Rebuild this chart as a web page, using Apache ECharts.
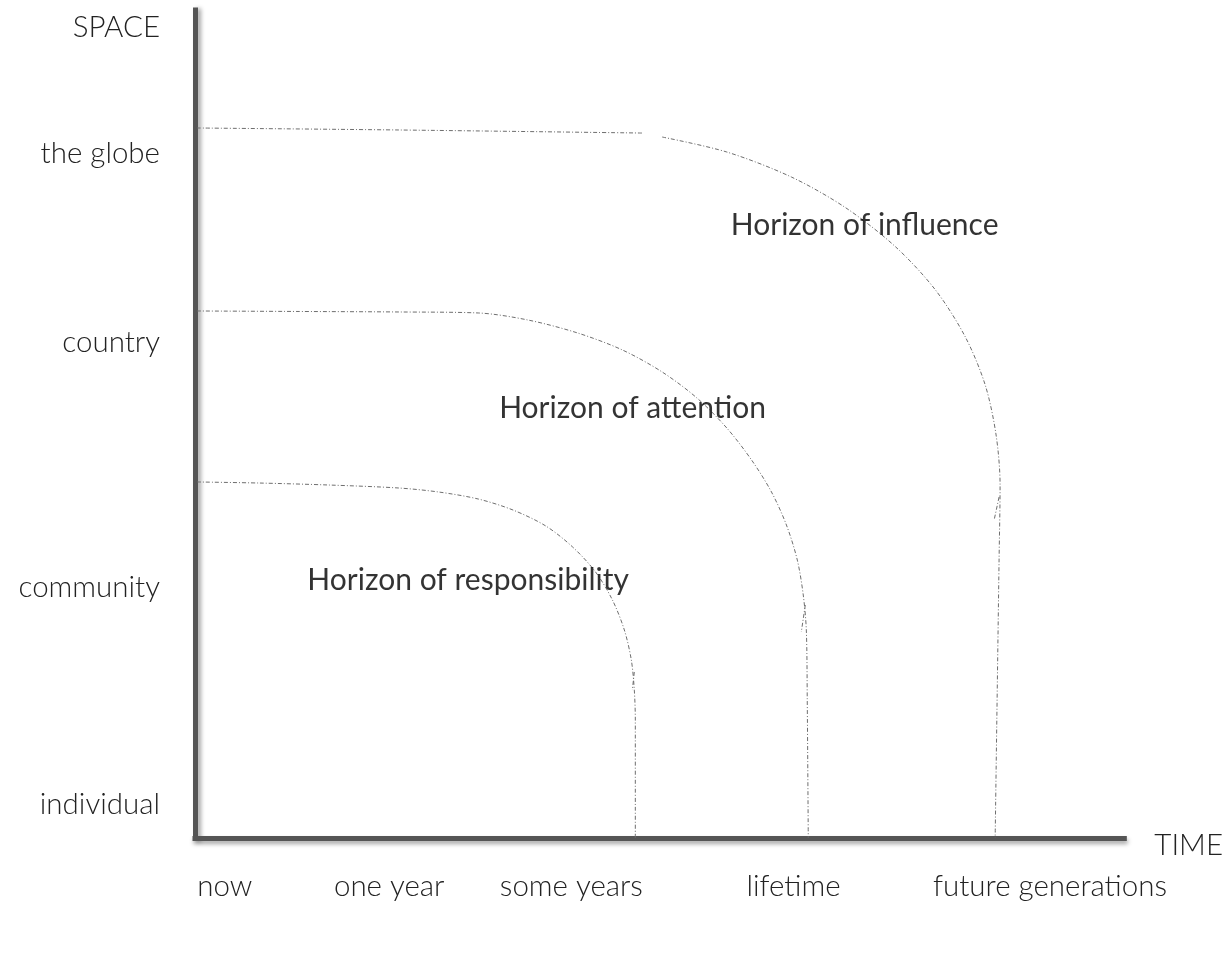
<!DOCTYPE html>
<html>
<head>
<meta charset="utf-8">
<script src="https://cdn.jsdelivr.net/npm/echarts@6/dist/echarts.min.js"></script>
<style>
html,body{margin:0;padding:0;background:#fff;}
#chart{width:1226px;height:962px;}
</style>
</head>
<body>
<div id="chart"></div>
<script>
// Tick labels (time axis and space axis)
var timeTickValues = [3.2, 20.9, 40.5, 64.4, 92.0];
var timeTickLabels = ['now', 'one year', 'some years', 'lifetime', 'future generations'];
var spaceTickValues = [4.0, 30.3, 59.8, 82.7, 97.9];
var spaceTickLabels = ['individual', 'community', 'country', 'the globe', 'SPACE'];

// Horizon curves: [time, space]
var responsibility = [
  [0.21, 43.00], [6.95, 42.87], [14.44, 42.63], [21.93, 42.27], [26.20, 41.79],
  [30.48, 40.94], [34.22, 39.61], [37.75, 37.68], [40.64, 35.14], [43.10, 32.13],
  [44.92, 28.74], [46.20, 25.12], [46.95, 21.50], [47.27, 17.87], [47.38, 14.25],
  [47.38, 0]
];
var attention = [
  [0.21, 63.65], [11.23, 63.59], [21.93, 63.53], [30.48, 63.41], [35.83, 62.56],
  [41.18, 60.99], [45.99, 58.94], [50.27, 56.28], [54.01, 53.14], [57.22, 49.52],
  [59.89, 45.65], [62.03, 41.79], [63.64, 37.80], [64.81, 33.57], [65.45, 29.35],
  [65.78, 25.12], [65.88, 16.67], [65.99, 0]
];
var influence = [
  [0.21, 85.75], [21.93, 85.51], [48.13, 85.14], null,
  [50.27, 84.66], [57.22, 82.85], [64.17, 79.83], [70.05, 76.09], [75.40, 71.38],
  [79.68, 66.18], [82.89, 60.51], [85.03, 54.71], [86.20, 48.67], [86.63, 42.63],
  [86.52, 33.57], [86.10, 0]
];
// small pen strokes where the arcs meet the verticals
var hooks = [
  [47.27, 20.05], [47.06, 17.87], null,
  [65.67, 28.14], [65.24, 24.88], null,
  [86.52, 41.18], [85.99, 38.41]
];

// Horizon names and anchor points [time, space]
var horizonNames = ['Horizon of responsibility', 'Horizon of attention', 'Horizon of influence'];
var horizonAnchors = [[12.09, 31.16], [32.73, 51.93], [57.65, 74.03]];

var FONT = 'Lato, "Open Sans", sans-serif';
var chart = echarts.init(document.getElementById('chart'), null, {renderer: 'canvas'});

function lookup(values, labels) {
  return function (v) {
    for (var i = 0; i < values.length; i++) {
      if (Math.abs(values[i] - v) < 1e-6) return labels[i];
    }
    return '';
  };
}

var curveStyle = {color: '#6e6e6e', width: 1, type: [4, 2, 1, 2]};

function curve(name, data, smooth) {
  return {
    name: name, type: 'line', data: data, smooth: smooth, showSymbol: false,
    connectNulls: false, lineStyle: curveStyle, silent: true, z: 2
  };
}

var option = {
  backgroundColor: '#fff',
  animation: false,
  grid: {left: 195, right: 96, top: 10, bottom: 124, containLabel: false},
  xAxis: {
    type: 'value', min: 0, max: 100,
    name: 'TIME', nameLocation: 'end', nameGap: 30,
    nameTextStyle: {fontFamily: FONT, fontWeight: 300, fontSize: 29.5, color: '#222',
      verticalAlign: 'top', lineHeight: 14},
    axisLine: {show: true, lineStyle: {color: '#555', width: 5, cap: 'square',
      shadowColor: 'rgba(0,0,0,0.35)', shadowBlur: 4, shadowOffsetX: 1, shadowOffsetY: 3}},
    axisTick: {show: false},
    splitLine: {show: false},
    axisLabel: {
      show: true, customValues: timeTickValues, formatter: lookup(timeTickValues, timeTickLabels),
      margin: 33, fontFamily: FONT, fontWeight: 300, fontSize: 29.5, color: '#222'
    }
  },
  yAxis: {
    type: 'value', min: 0, max: 100,
    axisLine: {show: true, lineStyle: {color: '#555', width: 5, cap: 'square',
      shadowColor: 'rgba(0,0,0,0.35)', shadowBlur: 4, shadowOffsetX: 3, shadowOffsetY: 1}},
    axisTick: {show: false},
    splitLine: {show: false},
    axisLabel: {
      show: true, customValues: spaceTickValues, formatter: lookup(spaceTickValues, spaceTickLabels),
      margin: 35, fontFamily: FONT, fontWeight: 300, fontSize: 29.5, color: '#222'
    }
  },
  series: [
    curve('Horizon of responsibility', responsibility, 0.3),
    curve('Horizon of attention', attention, 0.3),
    curve('Horizon of influence', influence, 0.3),
    curve('strokes', hooks, false),
    {
      type: 'scatter', symbolSize: 0, silent: true, z: 5,
      data: horizonAnchors.map(function (p, i) { return {value: p, name: horizonNames[i]}; }),
      label: {
        show: true, position: 'right', distance: 0, formatter: '{b}',
        fontFamily: FONT, fontSize: 30, color: '#000'
      }
    }
  ]
};
chart.setOption(option);
</script>
</body>
</html>
